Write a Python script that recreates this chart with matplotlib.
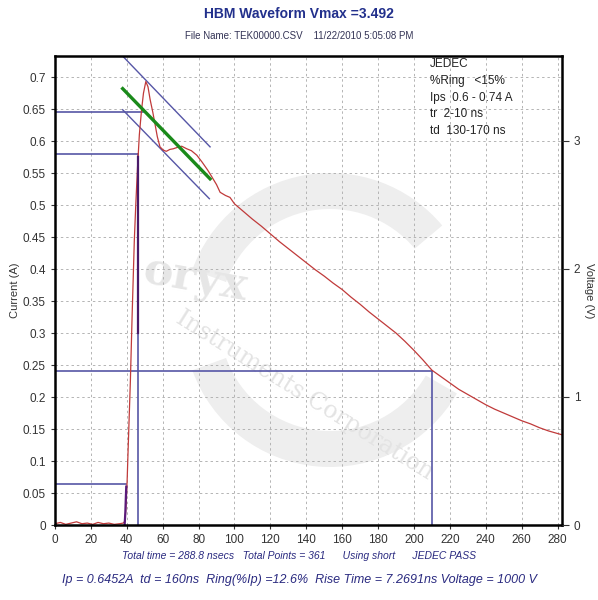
import matplotlib
matplotlib.use("Agg")
import matplotlib.pyplot as plt
from matplotlib.patches import Wedge

plt.rcParams['font.family'] = ['Liberation Sans', 'DejaVu Sans']

# ---------------- data ----------------
red_t = [0, 3, 6, 9, 12, 15, 18, 21, 24, 27, 30, 33, 36, 38, 39, 39.6, 40.2, 41, 42, 43,
         44.2, 45, 46, 47, 48.2, 49.3, 50.6, 51.8, 53, 54.5, 55.7, 57, 58.5, 60.3, 62, 64,
         65.9, 68, 70.6, 73.4, 76, 79, 82, 85, 87, 90, 92, 95, 97.5, 100, 105, 110, 115,
         120, 125, 130, 135, 140, 145, 150, 155, 160, 165, 170, 175, 180, 185, 190, 195,
         200, 205, 210, 215, 220, 225, 230, 235, 240, 245, 250, 255, 260, 265, 270, 275,
         280, 282.5]
red_i = [0.002, 0.004, 0.001, 0.003, 0.005, 0.002, 0.003, 0.001, 0.004, 0.002, 0.003, 0.001,
         0.002, 0.003, 0.006, 0.03, 0.07, 0.14, 0.225, 0.33, 0.445, 0.5, 0.56, 0.61, 0.648,
         0.675, 0.693, 0.685, 0.665, 0.645, 0.627, 0.607, 0.591, 0.586, 0.584, 0.587, 0.588,
         0.59, 0.592, 0.588, 0.585, 0.578, 0.567, 0.555, 0.546, 0.532, 0.52, 0.515, 0.512,
         0.502, 0.49, 0.478, 0.467, 0.455, 0.443, 0.432, 0.421, 0.41, 0.399, 0.389, 0.378,
         0.368, 0.356, 0.345, 0.333, 0.322, 0.311, 0.3, 0.287, 0.273, 0.258, 0.242, 0.232,
         0.222, 0.212, 0.204, 0.196, 0.188, 0.181, 0.175, 0.169, 0.163, 0.158, 0.152, 0.147,
         0.143, 0.141]

volt_t = [38.8, 39.2, 39.5, 39.7]
volt_i = [0.0, 0.02, 0.045, 0.06]
volt2_t = [46.2, 46.2]
volt2_i = [0.3, 0.575]

# construction lines (level, end time)
ip_level, ip_end = 0.6452, 49.0
h58_level, h58_end = 0.58, 46.3
h06_level, h06_end = 0.064, 39.6
td_level, td_time = 0.24, 210.0

# fit line and envelope (start/end)
fit_t = [37.7, 86.4]
fit_i = [0.682, 0.541]
upper_t = [38.0, 86.4]
upper_i = [0.732, 0.591]
lower_t = [37.7, 86.0]
lower_i = [0.649, 0.510]

xticks = list(range(0, 281, 20))
yticks = [0, 0.05, 0.1, 0.15, 0.2, 0.25, 0.3, 0.35, 0.4, 0.45, 0.5, 0.55, 0.6, 0.65, 0.7]
ytick_labels = ['0', '0.05', '0.1', '0.15', '0.2', '0.25', '0.3', '0.35', '0.4', '0.45',
                '0.5', '0.55', '0.6', '0.65', '0.7']
vticks = [0, 1, 2, 3]

jedec_lines = ["JEDEC", "%Ring   <15%", "Ips  0.6 - 0.74 A", "tr  2-10 ns", "td  130-170 ns"]

# ---------------- figure ----------------
fig = plt.figure(figsize=(5.98, 6.0), dpi=100)
ax = fig.add_axes([55/598, 75/600, 507/598, 469/600])
ax.set_xlim(0, 282.5)
ax.set_ylim(0, 0.733)

# faint watermark (behind data, inside axes)
cx, cy = 330/598, 1 - 320/600
for a0, a1 in [(200, 330), (40, 160)]:
    ax.add_patch(Wedge((cx, cy), 0.245, a0, a1, width=0.06, transform=fig.transFigure,
                       facecolor='#eeeeee', edgecolor='none', zorder=0.5, clip_on=False))
ax.text(195/598, 1 - 280/600, 'oryx', fontsize=32, fontweight='bold', color='#e6e6e6',
        ha='center', va='center', rotation=-10, zorder=0.6, family='DejaVu Serif',
        transform=fig.transFigure)
ax.text(305/598, 1 - 395/600, 'Instruments Corporation', fontsize=17, color='#e3e3e3',
        ha='center', va='center', rotation=-32, zorder=0.6, family='DejaVu Serif',
        transform=fig.transFigure)

ax.grid(True, color='#b4b4b4', linestyle=(0, (2.5, 3)), linewidth=0.7, zorder=1)
ax.set_axisbelow(False)
for gl in ax.get_xgridlines() + ax.get_ygridlines():
    gl.set_zorder(1)

blue = '#5656a6'
ax.plot([0, ip_end], [ip_level, ip_level], color=blue, lw=1.2, zorder=3)
ax.plot([0, h58_end], [h58_level, h58_level], color=blue, lw=1.2, zorder=3)
ax.plot([h58_end, h58_end], [0, h58_level], color=blue, lw=1.2, zorder=3)
ax.plot([0, h06_end], [h06_level, h06_level], color=blue, lw=1.2, zorder=3)
ax.plot([0, td_time], [td_level, td_level], color=blue, lw=1.2, zorder=3)
ax.plot([td_time, td_time], [0, td_level], color=blue, lw=1.2, zorder=3)
ax.plot(upper_t, upper_i, color=blue, lw=1.0, zorder=3)
ax.plot(lower_t, lower_i, color=blue, lw=1.0, zorder=3)

ax.plot(red_t, red_i, color='#c03a3a', lw=0.9, zorder=4)
ax.plot(volt_t, volt_i, color='#5a1a7a', lw=1.6, zorder=5)
ax.plot(volt2_t, volt2_i, color='#4a1a6a', lw=1.6, zorder=5)
ax.plot(fit_t, fit_i, color='#1a8a1a', lw=2.4, zorder=6)

ax.set_xticks(xticks)
ax.set_yticks(yticks)
ax.set_yticklabels(ytick_labels)
ax.tick_params(axis='both', labelsize=8.5, colors='#333333', length=3, width=0.8,
               direction='out')
for s in ax.spines.values():
    s.set_linewidth(1.8)
    s.set_color('black')
    s.set_zorder(10)
ax.set_ylabel('Current (A)', fontsize=8, color='#333333', labelpad=2)

ax2 = ax.twinx()
ax2.set_ylim(0, 3.66)
ax2.set_yticks(vticks)
ax2.tick_params(axis='y', labelsize=8.5, colors='#333333', length=5, width=0.8)
ax2.set_ylabel('Voltage (V)', fontsize=8, color='#333333', rotation=270, labelpad=10)
for s in ax2.spines.values():
    s.set_visible(False)

for k, line in enumerate(jedec_lines):
    fig.text(430/598, 1 - (64 + 16.8*k)/600, line, fontsize=8.5, color='#222222',
             ha='left', va='center', zorder=10)

fig.text(0.5, 1 - 14/600, 'HBM Waveform Vmax =3.492', fontsize=10, fontweight='bold',
         color='#22308c', ha='center', va='center')
fig.text(0.5, 1 - 36/600, 'File Name: TEK00000.CSV    11/22/2010 5:05:08 PM', fontsize=7,
         color='#333355', ha='center', va='center')
fig.text(0.5, 1 - 556/600,
         'Total time = 288.8 nsecs   Total Points = 361      Using short      JEDEC PASS',
         fontsize=7.5, style='italic', color='#2a2a80', ha='center', va='center')
fig.text(0.5, 1 - 580/600,
         'Ip = 0.6452A  td = 160ns  Ring(%Ip) =12.6%  Rise Time = 7.2691ns Voltage = 1000 V',
         fontsize=9, style='italic', color='#2a2a80', ha='center', va='center')

fig.savefig('out.png', dpi=100)
